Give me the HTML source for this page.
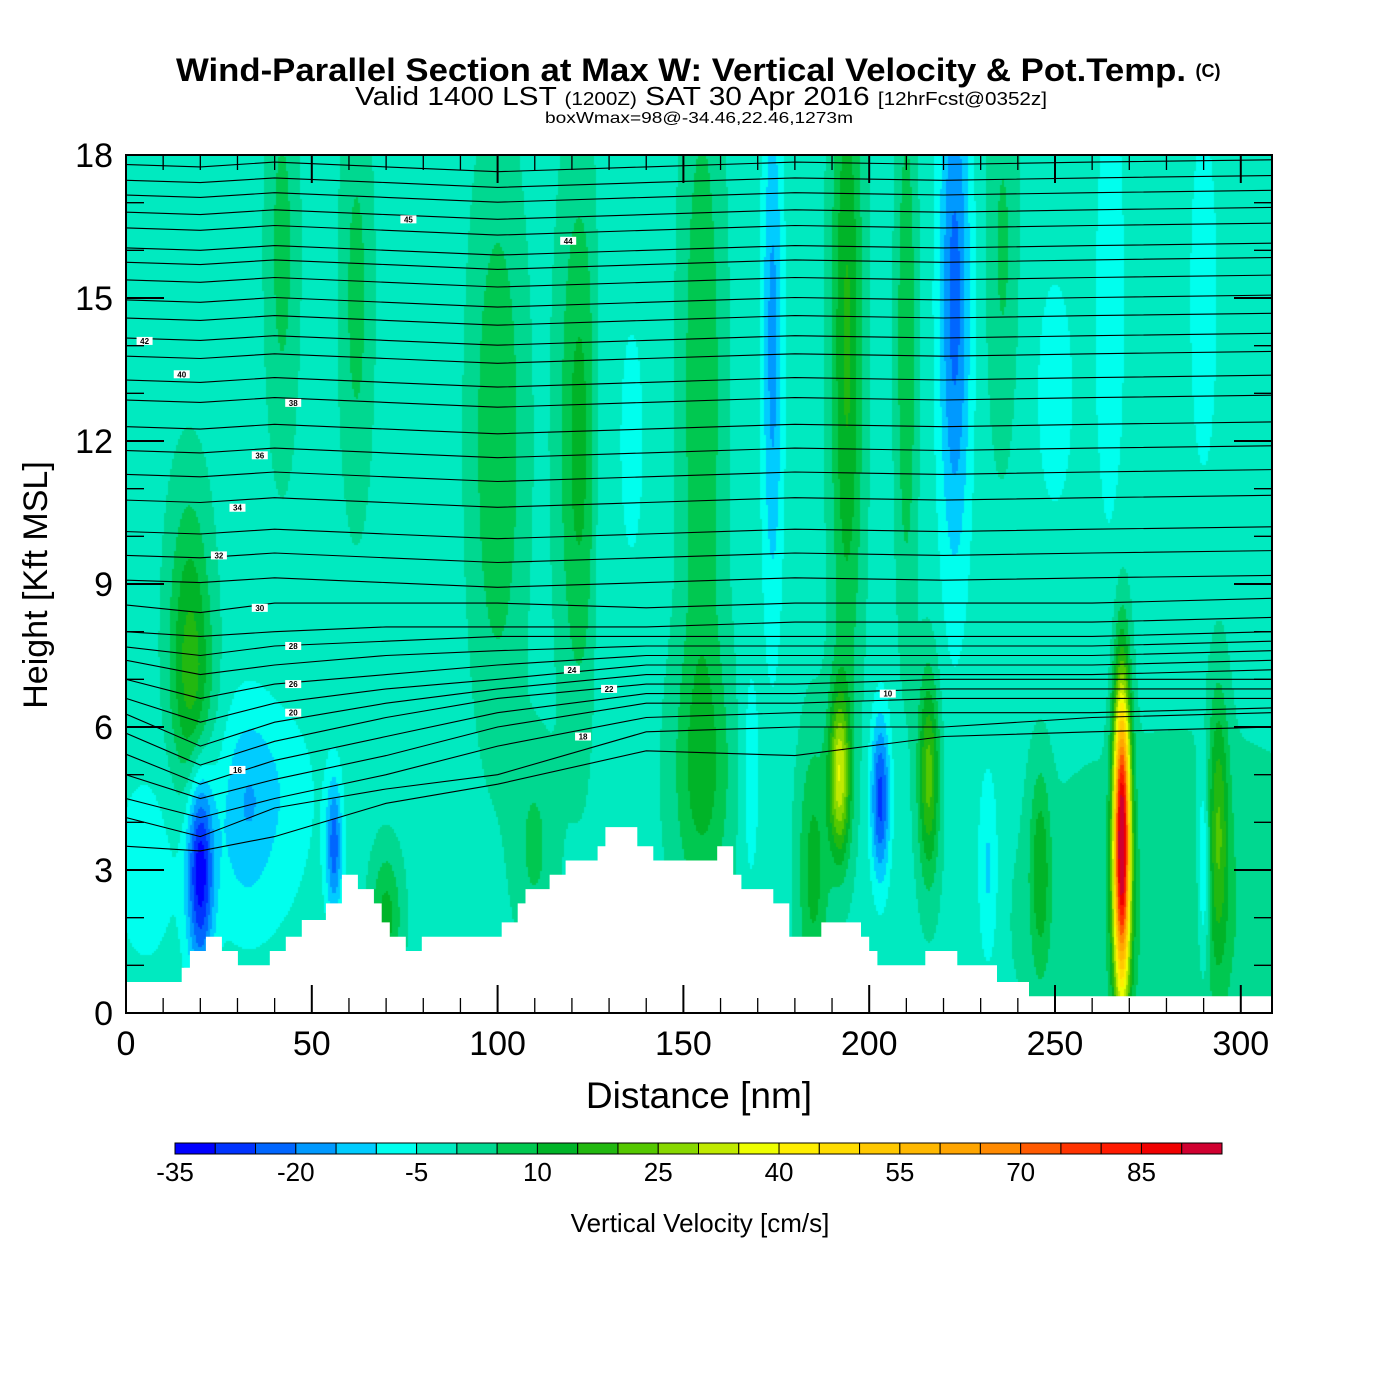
<!DOCTYPE html>
<html><head><meta charset="utf-8"><style>
body{margin:0;background:#fff;}
#wrap{position:relative;width:1400px;height:1400px;overflow:hidden;font-family:"Liberation Sans",sans-serif;}
canvas{position:absolute;left:0;top:0;}
svg{position:absolute;left:0;top:0;}
</style></head><body>
<div id="wrap">
<canvas id="cv" width="1400" height="1400"></canvas>
<svg id="sv" width="1400" height="1400" xmlns="http://www.w3.org/2000/svg"></svg>
</div>
<script>
// ---- data ----
const colorLevels=[-35,-30,-25,-20,-15,-10,-5,0,5,10,15,20,25,30,35,40,45,50,55,60,65,70,75,80,85,90];
const levelColors=["#0000ff","#0033ff","#0066ff","#0099ff","#00ccff","#00ffee","#00eac0","#00d890","#00c850","#00b428","#22b810","#55c800","#88d800","#c0ea00","#eeff00","#ffee00","#ffdc00","#ffc800","#ffb800","#ffa500","#ff8a00","#ff5a00","#ff3300","#ff1a00","#f00000","#d00030"];
const cbarLabels=[-35,-20,-5,10,25,40,55,70,85];
const xTicks=[0,50,100,150,200,250,300];
const yTicks=[0,3,6,9,12,15,18];
const baseW=-2;
const streakNm=[20,18,32,56,70,110,155,168,185,192,203,216,232,246,268,290,294,5,285,17,42,62,100,122,128,155,174,194,210,223,236,265,290,40,35,136,250];
const streakKft=[3.0,6.5,4.5,3.5,2.0,3.5,5,5,3,5,4.5,5,3,3,3.6,3,4,3,2,8.5,16,15,12,12,11,13,14,14,14,15,16,15,15,5,3,12,13];
const streakVal=[-30,12,-8,-20,14,8,12,-6,14,34,-25,24,-10,14,99,-15,18,-6,7,12,9,9,12,14,-5,12,-15,18,12,-20,8,-6,-6,-5,-4,-4,-4];
const streakXw=[2.5,4,5,1.5,3,4,6,2,3,2,1.8,2,2,2,1.6,1.2,2,6,30,4,3,3,5,4,2,4,2,3,2,3,3,3,3,8,12,4,6];
const streakYw=[1.5,1.5,1.5,1,1,1.5,2,2,2,1.2,1.2,1.5,1.5,1.5,2.2,1.5,2,1.5,2.5,2,3,3,4,4,4,5,4,5,4,4,3,4,3,1.2,1.5,3,3];
const terrainNm=[0,15,17.2,21.5,25.8,30.1,38.7,43,47.3,53.8,58.1,62.4,66.7,68.8,71,75.3,79.6,101.1,105.4,107.5,114,118.3,126.9,129,137.6,141.9,159.1,163.4,165.6,174.2,178.5,187.1,197.8,200,202.2,215.1,223.7,234.4,243];
const terrainKft=[0.65,0.95,1.3,1.6,1.3,1.0,1.3,1.6,1.95,2.3,2.9,2.6,2.3,1.9,1.6,1.3,1.6,1.9,2.3,2.6,2.9,3.2,3.5,3.9,3.5,3.2,3.5,2.9,2.6,2.3,1.6,1.9,1.6,1.3,1.0,1.3,1.0,0.65,0.35];
const anchorNm=[0,20,40,70,100,140,180,220,260,308.4];
const lowLines=[
[8.56,8.4,8.6,8.6,8.6,8.5,8.6,8.6,8.6,8.7],
[8.0,7.9,8.0,8.1,8.1,8.1,8.2,8.2,8.2,8.3],
[7.68,7.5,7.7,7.8,7.9,7.9,7.9,7.9,7.9,8.0],
[7.4,7.1,7.3,7.5,7.6,7.7,7.7,7.7,7.7,7.8],
[7.0,6.6,6.9,7.1,7.3,7.5,7.5,7.5,7.5,7.6],
[6.6,6.1,6.5,6.8,7.0,7.3,7.3,7.3,7.3,7.4],
[6.27,5.6,6.1,6.5,6.8,7.1,7.1,7.1,7.1,7.2],
[5.87,5.2,5.7,6.2,6.6,6.9,6.9,7.0,7.0,7.0],
[5.43,4.8,5.3,5.8,6.3,6.7,6.7,6.8,6.8,6.8],
[5.0,4.5,4.9,5.4,6.0,6.5,6.5,6.6,6.6,6.6],
[4.5,4.1,4.5,5.0,5.6,6.2,6.3,6.3,6.3,6.4],
[4.1,3.7,4.3,4.7,5.0,5.9,6.0,6.0,6.2,6.3],
[3.5,3.4,3.7,4.4,4.8,5.5,5.4,5.8,5.9,6.0]
];
const upperLeft=[9.08,9.6,10.1,10.76,11.3,11.8,12.3,12.86,13.28,13.78,14.16,14.58,14.96,15.38,15.75,16.05,16.47,16.8,17.16,17.47,17.8];
const upperShape=[0,-0.05,0.05,-0.05,-0.15,-0.05,0.05,0,0.05,0.1];
const thetaLabels=["45","44","42","40","38","36","34","32","30","28","26","24","22","20","18","16","10"];
const labelNm=[76,119,5,15,45,36,30,25,36,45,45,120,130,45,123,30,205];
const labelKft=[16.65,16.2,14.1,13.4,12.8,11.7,10.6,9.6,8.5,7.7,6.9,7.2,6.8,6.3,5.8,5.1,6.7];

// ---- scales ----
const X0=126,X1=1272,Y0=1013,Y1=155;
const NMMAX=308.4, KMAX=18;
const xs=nm=>X0+nm*(X1-X0)/NMMAX;
const ys=k=>Y0-k*(Y0-Y1)/KMAX;
const nmOf=px=>(px-X0)*NMMAX/(X1-X0);
const kOf=py=>(Y0-py)*KMAX/(Y0-Y1);
function colorFor(v){let i=Math.floor((v+35)/5);if(i<0)i=0;if(i>25)i=25;return levelColors[i];}

// ---- field ----
const ctx=document.getElementById('cv').getContext('2d');
const S=2;
for(let py=Y1;py<Y0;py+=S){
  const k=kOf(py+S/2);
  for(let px=X0;px<X1;px+=S){
    const nm=nmOf(px+S/2);
    let v=baseW;
    for(let i=0;i<streakNm.length;i++){
      const dx=(nm-streakNm[i])/streakXw[i], dy=(k-streakKft[i])/streakYw[i];
      v+=streakVal[i]*Math.exp(-0.5*(dx*dx+dy*dy));
    }
    ctx.fillStyle=colorFor(v);
    ctx.fillRect(px,py,S,S);
  }
}

// ---- svg ----
const NS="http://www.w3.org/2000/svg";
const sv=document.getElementById('sv');
function el(tag,attrs,parent){const e=document.createElementNS(NS,tag);for(const a in attrs)e.setAttribute(a,attrs[a]);(parent||sv).appendChild(e);return e;}
function txt(s,attrs,parent){const e=el('text',attrs,parent);e.textContent=s;return e;}

const gC=el('g',{});


function linePath(hs){return hs.map((h,i)=>(i?'L':'M')+xs(anchorNm[i]).toFixed(1)+' '+ys(h).toFixed(1)).join(' ');}
lowLines.forEach(hs=>{
  const p=el('path',{d:linePath(hs),fill:'none',stroke:'#000','stroke-width':1.1},gC);
  
  
});
upperLeft.forEach(h0=>{
  const hs=upperShape.map(s=>Math.min(18,h0+s));
  const p=el('path',{d:linePath(hs),fill:'none',stroke:'#000','stroke-width':1.1},gC);
  
  
});
thetaLabels.forEach((s,i)=>{
  const cx=xs(labelNm[i]),cy=ys(labelKft[i]);
  el('rect',{x:cx-8,y:cy-4,width:16,height:8,fill:'#fff'},gC);
  const t=txt(s,{x:cx,y:cy+3,'font-size':8,'text-anchor':'middle','font-weight':'bold'},gC);
  
  
});

let d='M'+xs(0)+' '+(Y0+1);
terrainNm.forEach((n,i)=>{const x0=xs(n),x1=i+1<terrainNm.length?xs(terrainNm[i+1]):X1;d+=' L'+x0.toFixed(1)+' '+ys(terrainKft[i]).toFixed(1)+' L'+x1.toFixed(1)+' '+ys(terrainKft[i]).toFixed(1);});
d+=' L'+X1+' '+(Y0+1)+' Z';
const terr=el('path',{d:d,fill:'#fff'});



el('rect',{x:0,y:0,width:1400,height:Y1,fill:'#fff'});

const frame=el('rect',{x:X0,y:Y1,width:X1-X0,height:Y0-Y1,fill:'none',stroke:'#000','stroke-width':2});


const gT=el('g',{stroke:'#000'});


for(let n=0;n<=NMMAX;n+=10){const maj=n%50===0,L=maj?28:15,x=xs(n);
  el('line',{x1:x,y1:Y0,x2:x,y2:Y0-L,'stroke-width':maj?2:1.3},gT);
  el('line',{x1:x,y1:Y1,x2:x,y2:Y1+L,'stroke-width':maj?2:1.3},gT);}
for(let k=0;k<=18;k++){const maj=k%3===0,L=maj?38:18,y=ys(k);
  el('line',{x1:X0,y1:y,x2:X0+L,y2:y,'stroke-width':maj?2:1.3},gT);
  el('line',{x1:X1,y1:y,x2:X1-L,y2:y,'stroke-width':maj?2:1.3},gT);}
xTicks.forEach(v=>{const t=txt(String(v),{x:xs(v),y:1055,'font-size':34,'text-anchor':'middle'});
  });
yTicks.forEach(v=>{const t=txt(String(v),{x:113,y:ys(v)+12,'font-size':34,'text-anchor':'end'});
  });
const xt=txt('Distance [nm]',{x:699,y:1108,'font-size':37,'text-anchor':'middle'});

const yt=txt('Height [Kft MSL]',{x:0,y:0,'font-size':34,'text-anchor':'middle',transform:'translate(47,585) rotate(-90)'});


const t1=txt('Wind-Parallel Section at Max W: Vertical Velocity & Pot.Temp.',{x:176,y:81,'font-size':32,'font-weight':'bold',textLength:1010,lengthAdjust:'spacingAndGlyphs'});

const tc=txt('(C)',{x:1208,y:77,'font-size':18,'font-weight':'bold','text-anchor':'middle'});

const t2=el('text',{x:355,y:105,'font-size':26,textLength:692,lengthAdjust:'spacingAndGlyphs'});
t2.innerHTML='Valid 1400 LST <tspan font-size="18">(1200Z)</tspan> SAT 30 Apr 2016 <tspan font-size="18">[12hrFcst@0352z]</tspan>';

const t3=txt('boxWmax=98@-34.46,22.46,1273m',{x:545,y:123,'font-size':16,textLength:308,lengthAdjust:'spacingAndGlyphs'});


const CB0=175,CB1=1222,CBY=1143,CBH=11,bw=(CB1-CB0)/colorLevels.length;
const gB=el('g',{});


colorLevels.forEach((lv,i)=>{
  const r=el('rect',{x:CB0+i*bw,y:CBY,width:bw,height:CBH,fill:levelColors[i],stroke:'#000','stroke-width':1},gB);
  
  
});
cbarLabels.forEach(v=>{const i=(v+35)/5;const t=txt(String(v),{x:CB0+i*bw,y:1181,'font-size':26,'text-anchor':'middle'},gB);
  });
const ct=txt('Vertical Velocity [cm/s]',{x:700,y:1232,'font-size':26,'text-anchor':'middle'});

</script>
</body></html>
